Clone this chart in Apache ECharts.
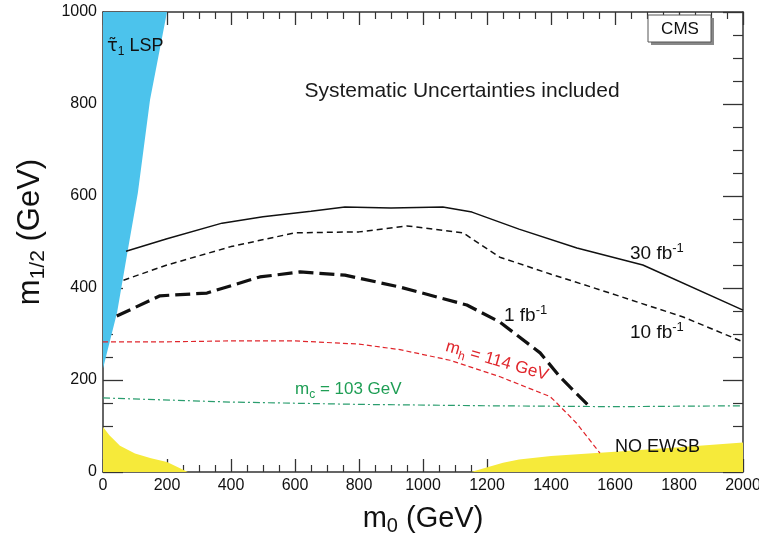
<!DOCTYPE html>
<html>
<head>
<meta charset="utf-8">
<script src="https://cdn.jsdelivr.net/npm/echarts@6/dist/echarts.min.js"></script>
<style>
html,body{margin:0;padding:0;background:#fff;}
#chart{width:759px;height:543px;}
</style>
</head>
<body>
<div id="chart"></div>
<script>
// ---- data (m0, m1/2 in GeV) ----
var xTicks = [0, 200, 400, 600, 800, 1000, 1200, 1400, 1600, 1800, 2000];
var yTicks = [0, 200, 400, 600, 800, 1000];

var lspM0  = [0, 44, 78, 109, 147, 200, 0];
var lspM12 = [225, 347, 484, 607, 809, 1000, 1000];

var ewsbLowM0  = [0, 20, 53, 100, 150, 200, 265];
var ewsbLowM12 = [98, 80, 57, 40, 30, 22, 0];

var ewsbHighM0  = [1150, 1250, 1300, 1400, 1600, 1800, 2000];
var ewsbHighM12 = [0, 20, 27, 35, 44, 54, 64];

var c30M0  = [72, 200, 372, 500, 650, 756, 900, 1062, 1153, 1300, 1481, 1687, 2000];
var c30M12 = [480, 507, 541, 555, 567, 576, 574, 576, 565, 528, 487, 450, 352];

var c10M0  = [64, 200, 400, 600, 800, 950, 1125, 1240, 1400, 1553, 1813, 2000];
var c10M12 = [417, 450, 490, 520, 522, 535, 520, 467, 430, 396, 337, 283];

var c1M0  = [43, 178, 325, 490, 616, 756, 928, 1137, 1240, 1366, 1428, 1522];
var c1M12 = [339, 383, 389, 424, 435, 428, 402, 363, 326, 259, 207, 141];

var mhM0  = [0, 200, 400, 600, 800, 928, 1084, 1241, 1397, 1418, 1480, 1553];
var mhM12 = [283, 283, 285, 285, 278, 266, 243, 207, 164, 150, 106, 41];

var mcM0  = [0, 400, 800, 1200, 1600, 2000];
var mcM12 = [161, 152, 147, 144, 142, 144];

function pairs(xs, ys) { return xs.map(function (x, i) { return [x, ys[i]]; }); }

var FONT = 'Liberation Sans, Arial, Helvetica, sans-serif';
var AX = '#333';

function makeAxis(kind, pos, showLabel, tickLen, minorLen) {
  var ticks = kind === 'x' ? xTicks : yTicks;
  return {
    type: 'value',
    min: ticks[0],
    max: ticks[ticks.length - 1],
    interval: ticks[1] - ticks[0],
    position: pos,
    axisLine: { show: true, onZero: false, lineStyle: { color: AX, width: 1.5 } },
    axisTick: { show: true, inside: true, length: tickLen, lineStyle: { color: AX, width: 1.3 } },
    minorTick: { show: true, splitNumber: 4, length: minorLen, lineStyle: { color: AX, width: 1.2 } },
    splitLine: { show: false },
    axisLabel: {
      show: showLabel, fontSize: 16, color: '#111', fontFamily: FONT, margin: 6,
      formatter: function (v) { return String(v); }
    }
  };
}

var chart = echarts.init(document.getElementById('chart'), null, { renderer: 'canvas' });

function txtRich(base, sub, color) {
  return {
    a: { fontSize: base, fontFamily: FONT, fill: color, lineHeight: base + 6, verticalAlign: 'middle' },
    t: { fontSize: base, fontFamily: 'DejaVu Sans', fill: color, lineHeight: base + 6, verticalAlign: 'middle' },
    s: { fontSize: Math.round(base * 0.68), fontFamily: FONT, fill: color, lineHeight: Math.round(base * 0.68), verticalAlign: sub ? 'bottom' : 'top' }
  };
}

function label(text, x, y, size, color, sub, align, rot) {
  return {
    type: 'text', x: x, y: y, rotation: rot || 0, z: 100,
    style: { text: text, rich: txtRich(size, sub, color), fill: color, align: align || 'left', verticalAlign: 'middle' }
  };
}

var option = {
  animation: false,
  backgroundColor: '#fff',
  grid: { left: 103, right: 16, top: 12, bottom: 71, containLabel: false, outerBoundsMode: 'none' },
  xAxis: [
    makeAxis('x', 'bottom', true, 13, 7),
    makeAxis('x', 'top', false, 13, 7)
  ],
  yAxis: [
    makeAxis('y', 'left', true, 20, 10),
    makeAxis('y', 'right', false, 20, 10)
  ],
  series: [
    {
      type: 'custom', name: 'stau LSP',
      data: pairs(lspM0, lspM12),
      renderItem: function (params, api) {
        if (params.dataIndex !== 0) return null;
        var pts = lspM0.map(function (x, i) { return api.coord([x, lspM12[i]]); });
        return { type: 'polygon', shape: { points: pts }, style: { fill: '#4cc3ec' } };
      }
    },
    {
      type: 'line', name: 'no EWSB low', symbol: 'none',
      data: pairs(ewsbLowM0, ewsbLowM12),
      lineStyle: { width: 0 }, areaStyle: { color: '#f6ea3a', opacity: 1 }
    },
    {
      type: 'line', name: 'no EWSB high', symbol: 'none',
      data: pairs(ewsbHighM0, ewsbHighM12),
      lineStyle: { width: 0 }, areaStyle: { color: '#f6ea3a', opacity: 1 }
    },
    {
      type: 'line', name: 'mc', symbol: 'none',
      data: pairs(mcM0, mcM12),
      lineStyle: { color: '#2a9d6e', width: 1.2, type: [7, 3, 2, 3] }
    },
    {
      type: 'line', name: 'mh', symbol: 'none',
      data: pairs(mhM0, mhM12),
      lineStyle: { color: '#e0262c', width: 1.2, type: [5, 3] }
    },
    {
      type: 'line', name: '30 fb-1', symbol: 'none',
      data: pairs(c30M0, c30M12),
      lineStyle: { color: '#111', width: 1.5, type: 'solid' }
    },
    {
      type: 'line', name: '10 fb-1', symbol: 'none',
      data: pairs(c10M0, c10M12),
      lineStyle: { color: '#111', width: 1.5, type: [6, 4] }
    },
    {
      type: 'line', name: '1 fb-1', symbol: 'none',
      data: pairs(c1M0, c1M12),
      lineStyle: { color: '#111', width: 3.2, type: [15, 6] }
    }
  ],
  graphic: [
    label('{t|τ̃}{s|1}{a| LSP}', 107, 46, 18, '#111', true),
    { type: 'text', x: 462, y: 91, z: 100, style: { text: 'Systematic Uncertainties included', fontSize: 21, fontFamily: FONT, fill: '#1a1a1a', align: 'center', verticalAlign: 'middle' } },
    { type: 'rect', z: 99, shape: { x: 651, y: 18, width: 63, height: 27 }, style: { fill: '#888' } },
    { type: 'rect', z: 100, shape: { x: 648, y: 15, width: 63, height: 27 }, style: { fill: '#fff', stroke: '#555', lineWidth: 1 } },
    { type: 'text', x: 680, y: 29, z: 101, style: { text: 'CMS', fontSize: 17, fontFamily: FONT, fill: '#111', align: 'center', verticalAlign: 'middle' } },
    label('{a|30 fb}{s|-1}', 630, 254, 19, '#111', false),
    label('{a|10 fb}{s|-1}', 630, 333, 19, '#111', false),
    label('{a|1 fb}{s|-1}', 504, 316, 19, '#111', false),
    label('{a|m}{s|h}{a| = 114 GeV}', 497, 361, 17, '#e0262c', true, 'center', -0.28),
    label('{a|m}{s|c}{a| = 103 GeV}', 295, 389, 17, '#1f9e55', true),
    { type: 'text', x: 615, y: 447, z: 100, style: { text: 'NO EWSB', fontSize: 18, fontFamily: FONT, fill: '#111', align: 'left', verticalAlign: 'middle' } },
    label('{a|m}{s|0}{a| (GeV)}', 423, 519, 29, '#111', true, 'center'),
    label('{a|m}{s|1/2}{a| (GeV)}', 30, 232, 31, '#111', true, 'center', Math.PI / 2)
  ]
};
chart.setOption(option);
</script>
</body>
</html>
